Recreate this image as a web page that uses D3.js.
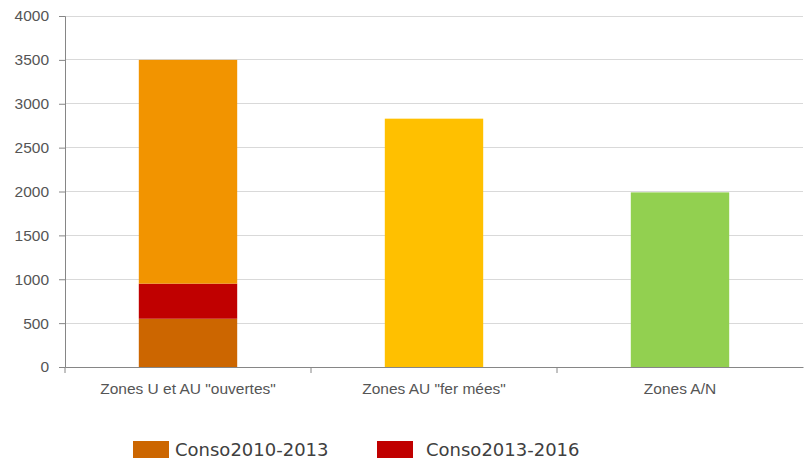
<!DOCTYPE html>
<html><head><meta charset="utf-8">
<script src="https://cdn.jsdelivr.net/npm/d3@7"></script>
<style>body{margin:0;background:#fff}svg{display:block}</style>
</head><body>
<svg id="c" width="808" height="459"></svg>
<script>
const categories = ['Zones U et AU "ouvertes"', 'Zones AU "fer mées"', 'Zones A/N'];
const conso2010_2013 = [550, 0, 0];
const conso2013_2016 = [400, 0, 0];
const reste = [2550, 2830, 1990];
const yTicks = [0, 500, 1000, 1500, 2000, 2500, 3000, 3500, 4000];
const legendLabels = ["Conso2010-2013", "Conso2013-2016"];

const colC1 = "#cc6600", colC2 = "#c00000";
const resteColors = ["#f29400", "#ffc000", "#92d050"];

const svg = d3.select("#c");
const m = {l: 65, r: 803, t: 16, b: 367};
const x = d3.scaleBand().domain(categories).range([m.l, m.r]).paddingInner(0.6).paddingOuter(0.3);
const y = d3.scaleLinear().domain([0, 4000]).range([m.b, m.t]);

// gridlines
svg.append("g").selectAll("line").data(yTicks.filter(d => d > 0)).join("line")
  .attr("x1", m.l).attr("x2", m.r).attr("y1", d => y(d)).attr("y2", d => y(d))
  .attr("stroke", "#d9d9d9").attr("stroke-width", 1).attr("shape-rendering", "crispEdges");

// stacked data
const rows = categories.map((c, i) => ({cat: c, i, a: conso2010_2013[i], b: conso2013_2016[i], r: reste[i]}));
const stack = d3.stack().keys(["a", "b", "r"])(rows);
const colorFor = (key, i) => key === "a" ? colC1 : key === "b" ? colC2 : resteColors[i];
stack.forEach(s => {
  svg.append("g").selectAll("rect").data(s).join("rect")
    .attr("x", d => x(d.data.cat))
    .attr("width", x.bandwidth())
    .attr("y", d => y(d[1]))
    .attr("height", d => y(d[0]) - y(d[1]))
    .attr("fill", d => colorFor(s.key, d.data.i));
});

const font = "'Liberation Sans', Arial, sans-serif";
// y axis
const yAxis = svg.append("g").attr("transform", `translate(${m.l},0)`)
  .call(d3.axisLeft(y).tickValues(yTicks).tickSize(6).tickPadding(10).tickFormat(d3.format("d")));
yAxis.select(".domain").attr("stroke", "#868686");
yAxis.selectAll(".tick line").attr("stroke", "#868686");
yAxis.selectAll("text").attr("fill", "#555").style("font-family", font).style("font-size", "15.5px");

// x axis
const xAxis = svg.append("g").attr("transform", `translate(0,${m.b})`)
  .call(d3.axisBottom(x).tickSize(0).tickPadding(16));
xAxis.select(".domain").attr("stroke", "#868686");
xAxis.selectAll("text").attr("fill", "#555").style("font-family", font).style("font-size", "15.5px").style("letter-spacing", "0px");
// category boundary ticks
const bounds = [m.l, ...categories.slice(1).map(c => x(c) - x.step() * x.paddingInner() / 2)];
xAxis.selectAll(".bt").data(bounds).join("line").attr("class", "bt")
  .attr("x1", d => d).attr("x2", d => d).attr("y1", 0).attr("y2", 6).attr("stroke", "#868686");

// legend
const leg = svg.append("g");
const legX = [133, 377];
const legC = [colC1, colC2];
legendLabels.forEach((t, i) => {
  leg.append("rect").attr("x", legX[i]).attr("y", 441).attr("width", 36).attr("height", 17).attr("fill", legC[i]);
  leg.append("text").attr("x", legX[i] + 42 + (i === 1 ? 7 : 0)).attr("y", 456).text(t)
    .attr("fill", "#404040").style("font-family", "'DejaVu Sans', Verdana, sans-serif").style("font-size", "18px");
});
</script>
</body></html>
